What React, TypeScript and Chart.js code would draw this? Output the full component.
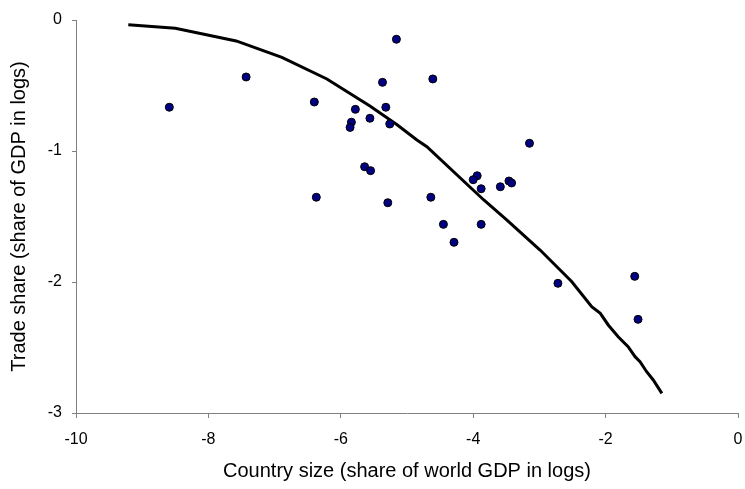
import React, { useEffect, useRef } from "react";
import { Chart, registerables } from "chart.js";

Chart.register(...registerables);

const countryX = [-8.59, -7.43, -6.40, -6.37, -5.16, -5.37, -5.78, -5.32, -5.56, -5.84, -5.86, -5.26, -5.64, -5.55, -5.29, -4.61, -3.15, -3.94, -4.00, -3.88, -3.59, -3.46, -3.42, -4.64, -4.45, -3.88, -4.29, -2.72, -1.56, -1.51];
const countryY = [-0.666, -0.435, -0.626, -1.353, -0.147, -0.476, -0.682, -0.666, -0.750, -0.78, -0.82, -0.794, -1.12, -1.15, -1.395, -0.45, -0.941, -1.189, -1.219, -1.288, -1.273, -1.229, -1.244, -1.353, -1.56, -1.56, -1.697, -2.01, -1.957, -2.285];

const fitX = [-9.21, -8.50, -7.58, -6.89, -6.21, -5.56, -5.15, -4.85, -4.70, -3.84, -3.49, -2.99, -2.51, -2.21, -2.08, -1.96, -1.81, -1.66, -1.555, -1.48, -1.38, -1.28, -1.15];
const fitY = [-0.036, -0.063, -0.160, -0.285, -0.450, -0.656, -0.80, -0.916, -0.967, -1.374, -1.527, -1.756, -1.998, -2.189, -2.239, -2.328, -2.418, -2.494, -2.57, -2.608, -2.685, -2.748, -2.85];

const xTitle = "Country size (share of world GDP in logs)";
const yTitle = "Trade share (share of GDP in logs)";

export default function App() {
  const ref = useRef<HTMLCanvasElement>(null);
  useEffect(() => {
    if (!ref.current) return;
    const family = "'Liberation Sans', Arial, sans-serif";
    const font = { family, size: 16 };
    const titleFont = { family, size: 20 };
    const chart = new Chart(ref.current, {
      type: "scatter",
      data: {
        datasets: [
          {
            label: "countries",
            data: countryX.map((x, i) => ({ x, y: countryY[i] })),
            backgroundColor: "#000080",
            borderColor: "#000000",
            borderWidth: 1,
            pointRadius: 4,
            order: 0,
          },
          {
            label: "fit",
            data: fitX.map((x, i) => ({ x, y: fitY[i] })),
            showLine: true,
            borderColor: "#000000",
            borderWidth: 3,
            pointRadius: 0,
            fill: false,
            order: 1,
          },
        ],
      },
      options: {
        animation: false,
        responsive: false,
        maintainAspectRatio: false,
        layout: { padding: { left: 0, right: 7, top: 20, bottom: 0 } },
        plugins: { legend: { display: false }, tooltip: { enabled: false } },
        scales: {
          x: {
            type: "linear",
            min: -10,
            max: 0,
            afterFit: (s: any) => { s.height = 76; s.paddingRight = 0; s.paddingLeft = 0; },
            ticks: { stepSize: 2, color: "#000", font, padding: 12 },
            grid: { drawOnChartArea: false, drawTicks: true, tickLength: 5, color: "#808080" },
            border: { display: true, color: "#808080", width: 1 },
            title: { display: true, text: xTitle, color: "#000", font: titleFont, padding: { top: 6, bottom: 6 } },
          },
          y: {
            type: "linear",
            min: -3,
            max: 0,
            afterFit: (s: any) => { s.width = 76; s.paddingTop = 0; s.paddingBottom = 0; },
            ticks: { stepSize: 1, color: "#000", font, padding: 10 },
            grid: { drawOnChartArea: false, drawTicks: true, tickLength: 4, color: "#808080" },
            border: { display: true, color: "#808080", width: 1 },
            title: { display: true, text: yTitle, color: "#000", font: titleFont, padding: { top: 7, bottom: 7 } },
          },
        },
      },
    });
    return () => chart.destroy();
  }, []);
  return (
    <div style={{ position: "absolute", left: 0, top: 0, width: 745, height: 489, background: "#fff" }}>
      <canvas ref={ref} width={745} height={489} />
    </div>
  );
}
